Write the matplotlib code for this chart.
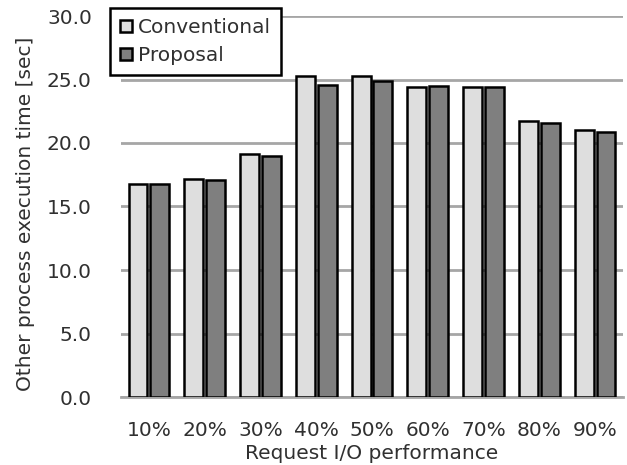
import matplotlib
matplotlib.use("Agg")
import matplotlib.pyplot as plt
import numpy as np

categories = ["10%", "20%", "30%", "40%", "50%", "60%", "70%", "80%", "90%"]
conventional = [16.8, 17.2, 19.1, 25.3, 25.3, 24.4, 24.4, 21.7, 21.0]
proposal = [16.8, 17.1, 19.0, 24.6, 24.9, 24.5, 24.4, 21.6, 20.9]
y_ticks = [0, 5, 10, 15, 20, 25, 30]

plt.rcParams["font.family"] = ["DejaVu Sans"]
FS = 14.5
TXT = "#303030"

fig = plt.figure(figsize=(6.27, 4.65), dpi=100)
ax = fig.add_axes([121 / 627, 1 - 397 / 465, 502 / 627, 381 / 465])

x = np.arange(len(categories))
w = 0.34
off = 0.195
ax.bar(x - off, conventional, w, color="#dedede", edgecolor="black",
       linewidth=1.8, label="Conventional", zorder=3)
ax.bar(x + off, proposal, w, color="#7f7f7f", edgecolor="black",
       linewidth=1.8, label="Proposal", zorder=3)

ax.set_xlim(-0.5, len(categories) - 0.5)
ax.set_ylim(0, 30)
ax.set_yticks(y_ticks)
ax.set_yticklabels([f"{v:.1f}" for v in y_ticks])
ax.set_xticks(x)
ax.set_xticklabels(categories)
ax.yaxis.grid(True, color="#a6a6a6", linewidth=2, zorder=0)
ax.set_axisbelow(True)

for s in ["top", "right", "left"]:
    ax.spines[s].set_visible(False)
ax.spines["bottom"].set_color("#a6a6a6")
ax.spines["bottom"].set_linewidth(2)
ax.tick_params(axis="both", length=0, labelsize=FS, colors=TXT)
ax.tick_params(axis="x", pad=17)
ax.tick_params(axis="y", pad=21)

ax.set_xlabel("Request I/O performance", fontsize=FS, color=TXT, labelpad=3)
ax.set_ylabel("Other process execution time [sec]", fontsize=FS, color=TXT)
ax.yaxis.set_label_coords(-0.172, 0.482)

leg = ax.legend(loc="upper left", bbox_to_anchor=(-0.022, 1.021), fontsize=FS,
                frameon=True, fancybox=False, edgecolor="black",
                handlelength=0.6, handleheight=0.6, handletextpad=0.3,
                borderpad=0.5, labelspacing=0.45, borderaxespad=0)
leg.get_frame().set_linewidth(1.8)
leg.get_frame().set_alpha(1)
leg.set_zorder(5)
for t in leg.get_texts():
    t.set_color(TXT)

fig.savefig("out.png", dpi=100)
